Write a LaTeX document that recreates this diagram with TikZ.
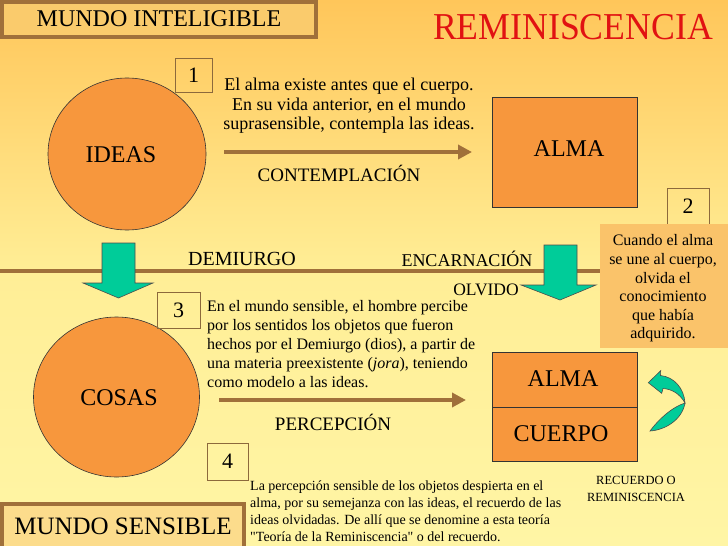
\documentclass[tikz,border=0pt]{standalone}
\usepackage{fontspec}
\setmainfont{Liberation Serif}[Ligatures=TeXOff]
\usepackage{graphicx}
\usetikzlibrary{arrows.meta,shapes.geometric}
\definecolor{bgtop}{RGB}{255,198,90}
\definecolor{bgmid}{RGB}{255,238,150}
\definecolor{bgbot}{RGB}{255,245,165}
\definecolor{brownc}{RGB}{160,112,58}
\definecolor{orangec}{RGB}{247,151,61}
\definecolor{greenc}{RGB}{0,204,153}
\definecolor{notec}{RGB}{250,195,106}
\definecolor{titlered}{RGB}{225,18,18}
\definecolor{framefillA}{RGB}{250,203,108}
\definecolor{framefillB}{RGB}{252,220,140}
\definecolor{numframe}{RGB}{140,105,60}
\begin{document}
\begin{tikzpicture}[x=1pt,y=-1pt,
  lbl/.style={inner sep=0pt, anchor=base, font=\fontsize{19}{22}\selectfont},
  lblsmall/.style={inner sep=0pt, anchor=base, font=\fontsize{18}{21}\selectfont},
  bigtxt/.style={inner sep=0pt, anchor=base, font=\fontsize{24}{28}\selectfont},
  numbox/.style={draw=numframe, line width=0.8pt, inner sep=0pt, font=\fontsize{22}{24}\selectfont},
  frame/.style={draw=brownc, line width=4pt, inner sep=0pt},
  orangeshape/.style={fill=orangec, draw=black!80, line width=0.6pt, inner sep=0pt},
  greenarrow/.style={fill=greenc, draw=black!70, line width=0.6pt},
  brownarrow/.style={draw=brownc, line width=4.5pt, -{Triangle[length=14pt,width=14pt]}},
  para/.style={inner sep=0pt}
]
\useasboundingbox (0,0) rectangle (728,546);
\clip (0,0) rectangle (728,546);
% background
\shade[top color=bgtop, bottom color=bgmid] (0,0) rectangle (728,271);
\shade[top color=bgmid, bottom color=bgbot] (0,271) rectangle (728,546);

% dividing line
\coordinate (divL) at (0,271);
\coordinate (divR) at (600,271);
\draw[brownc, line width=4.5pt] (divL) -- (divR);

% title frames
\node[frame, fill=framefillA, minimum width=314pt, minimum height=35pt,
      font=\fontsize{24}{26}\selectfont] (mi) at (159,19) {MUNDO INTELIGIBLE};
\node[frame, fill=framefillB, minimum width=242pt, minimum height=44pt,
      font=\fontsize{25}{27}\selectfont] (ms) at (123,526) {MUNDO SENSIBLE};
\node[inner sep=0pt, text=titlered, font=\fontsize{38}{40}\selectfont] (title) at (573,27.5)
  {\scalebox{0.94}[1]{REMINISCENCIA}};

% IDEAS and ALMA (upper)
\node[orangeshape, ellipse, minimum width=158pt, minimum height=152pt] (ideas) at (127,154) {};
\node[bigtxt] (ideastxt) at (121,162) {IDEAS};
\node[orangeshape, rectangle, minimum width=145pt, minimum height=110pt] (alma) at (564.5,152) {};
\node[bigtxt] (almatxt) at (569,156) {ALMA};

% number 1 and text
\node[numbox, minimum width=37pt, minimum height=34pt] (n1) at (193.5,75) {1};
\node[para, align=center, font=\fontsize{18}{19.5}\selectfont] (t1) at (349,106)
  {El alma existe antes que el cuerpo.\\En su vida anterior, en el mundo\\suprasensible, contempla las ideas.};

% contemplation arrow
\coordinate (c1s) at (224,152);
\coordinate (c1e) at (472,152);
\draw[brownarrow] (c1s) -- (c1e);
\node[lbl] (contemp) at (339,181) {CONTEMPLACIÓN};

% green arrows
\draw[greenarrow] (102,243) -- (135,243) -- (135,283) -- (153,283) -- (118.5,298) -- (83,283) -- (102,283) -- cycle;
\draw[greenarrow] (544,245) -- (577,245) -- (577,285) -- (596,285) -- (560,300) -- (521,285) -- (544,285) -- cycle;
\node[lbl, font=\fontsize{20}{22}\selectfont] (demi) at (242,265) {DEMIURGO};
\node[lblsmall] (encar) at (467,266) {ENCARNACIÓN};
\node[lblsmall, font=\fontsize{17.5}{20}\selectfont] (olv) at (486,295) {OLVIDO};

% number 2 and note
\node[numbox, minimum width=42pt, minimum height=36pt] (n2) at (688,206) {2};
\node[fill=notec, minimum width=128pt, minimum height=124pt, inner sep=0pt] (note) at (664,286) {};
\node[para, align=center, font=\fontsize{16}{18.6}\selectfont] (notetxt) at (663,288.5)
  {Cuando el alma\\se une al cuerpo,\\olvida el\\conocimiento\\que había\\adquirido.};

% COSAS
\node[orangeshape, ellipse, minimum width=166pt, minimum height=160pt] (cosas) at (116.5,397) {};
\node[bigtxt] (cosastxt) at (119,405) {COSAS};

% number 3 and text
\node[numbox, minimum width=43pt, minimum height=36pt] (n3) at (178.5,310) {3};
\node[para, anchor=west, align=left, font=\fontsize{16}{19}\selectfont] (t3) at (207,344)
  {En el mundo sensible, el hombre percibe\\por los sentidos los objetos que fueron\\hechos por el Demiurgo (dios), a partir de\\una materia preexistente (\textit{jora}), teniendo\\como modelo a las ideas.};

% perception arrow
\coordinate (c2s) at (219,400);
\coordinate (c2e) at (466,400);
\draw[brownarrow] (c2s) -- (c2e);
\node[lbl] (percep) at (333,430) {PERCEPCIÓN};

% ALMA / CUERPO
\node[orangeshape, rectangle, minimum width=145pt, minimum height=55pt] (alma2) at (564.5,379.5) {};
\node[orangeshape, rectangle, minimum width=145pt, minimum height=54pt] (cuerpo) at (564.5,434) {};
\node[bigtxt] (alma2txt) at (563,386) {ALMA};
\node[bigtxt] (cuerpotxt) at (561,441) {CUERPO};

% number 4 and text
\node[numbox, minimum width=41pt, minimum height=37pt] (n4) at (227.5,461.5) {4};
\node[para, anchor=west, align=left, font=\fontsize{14}{17}\selectfont] (t4) at (250,511.5)
  {La percepción sensible de los objetos despierta en el\\alma, por su semejanza con las ideas, el recuerdo de las\\ideas olvidadas. De allí que se denomine a esta teoría\\"Teoría de la Reminiscencia" o del recuerdo.};

% curved green arrow
\draw[greenarrow] (660.7,370.7) -- (648.3,382.7) -- (661.7,393.3) -- (663,388.5)
  .. controls (672,389) and (680,394) .. (685,403)
  .. controls (684,388) and (674,377) .. (660.5,375.5) -- cycle;
\draw[greenarrow] (685,403) .. controls (682,420) and (665,430) .. (650,431)
  .. controls (658,420) and (672,407) .. (685,403) -- cycle;
\node[para, align=center, font=\fontsize{12.5}{17}\selectfont] (recu) at (636,488.5)
  {RECUERDO O\\REMINISCENCIA};
\end{tikzpicture}
\end{document}
